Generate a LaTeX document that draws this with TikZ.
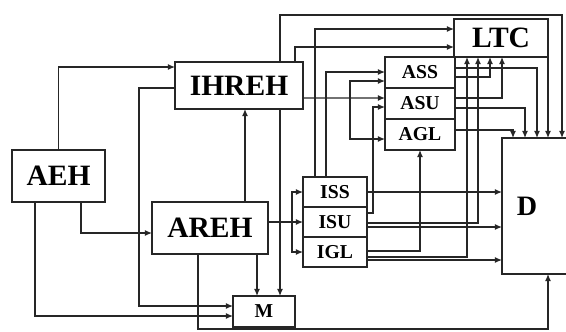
\documentclass[tikz,border=0pt]{standalone}
\usepackage{fontspec}
\setmainfont{Liberation Serif}
\usetikzlibrary{arrows.meta, positioning, calc}
\newcommand{\pxu}{0.025cm}

\begin{document}
\begin{tikzpicture}[x=0.025cm, y=-0.025cm, line width=0.8pt, draw=black!85,
    blk/.style={draw, inner sep=0pt, outer sep=0pt, font=\bfseries\fontsize{21}{21}\selectfont},
    sml/.style={blk, font=\bfseries\fontsize{14}{14}\selectfont},
    arr/.style={-{Latex[length=5pt, width=4.2pt]}}]
    \useasboundingbox (0,0) rectangle (566,331);

    \node[blk, minimum width=93*\pxu, minimum height=52*\pxu] (AEH) at (58.5,176) {AEH};
    \node[blk, minimum width=128*\pxu, minimum height=47*\pxu] (IHREH) at (239,85.5) {IHREH};
    \node[blk, minimum width=116*\pxu, minimum height=52*\pxu] (AREH) at (210,228) {AREH};
    \node[sml, minimum width=62*\pxu, minimum height=31*\pxu] (M) at (264,311.5) {M};
    \node[sml, minimum width=64*\pxu, minimum height=30*\pxu] (ISS) at (335,192) {ISS};
    \node[sml, minimum width=64*\pxu, minimum height=30*\pxu, below=0pt of ISS] (ISU) {ISU};
    \node[sml, minimum width=64*\pxu, minimum height=30*\pxu, below=0pt of ISU] (IGL) {IGL};
    \node[sml, minimum width=70*\pxu, minimum height=31*\pxu] (ASS) at (420,72.5) {ASS};
    \node[sml, minimum width=70*\pxu, minimum height=31*\pxu, below=0pt of ASS] (ASU) {ASU};
    \node[sml, minimum width=70*\pxu, minimum height=31*\pxu, below=0pt of ASU] (AGL) {AGL};
    \node[blk, minimum width=94*\pxu, minimum height=38*\pxu] (LTC) at (501,38) {LTC};
    \node[blk, draw=none, font=\bfseries\fontsize{20}{20}\selectfont,
        minimum width=50*\pxu, minimum height=136*\pxu] (D) at (527,206) {D};
    \draw ($(D.north east)+(20,0)$) -- (D.north west) -- (D.south west) -- ($(D.south east)+(20,0)$);

    \draw[arr] (AEH.north) |- ($(IHREH.north west)+(0,5)$);
    \draw[arr] ($(AEH.south west)+(69,0)$) |- ($(AREH.north west)+(0,31)$);
    \draw[arr] ($(AEH.south west)+(23,0)$) |- ($(M.north west)+(0,20)$);
    \draw[arr] ($(IHREH.north west)+(0,26)$) -- ++(-36,0) |- ($(M.north west)+(0,10)$);
    \draw[arr] ($(AREH.north west)+(93,0)$) -- ($(IHREH.south west)+(70,0)$);
    \draw[arr] ($(AREH.south west)+(105,0)$) -- ($(M.north west)+(24,0)$);
    \draw[arr] ($(IHREH.south west)+(105,0)$) -- ($(M.north west)+(47,0)$);
    \draw[arr] ($(IHREH.north west)+(105,0)$) -- ++(0,-47) -| ($(D.north west)+(60,0)$);
    \draw[arr] ($(IHREH.north west)+(120,0)$) |- ($(LTC.north west)+(0,28)$);
    \draw[arr] ($(AREH.south west)+(46,0)$) -- ++(0,75) -| ($(D.south west)+(46,0)$);

    \coordinate (sp1) at ($(AREH.north east)+(24,20)$);
    \draw ($(AREH.north east)+(0,20)$) -- (sp1);
    \draw[arr] (sp1) |- (ISS.west);
    \draw[arr] (sp1) -- (ISU.west);
    \draw[arr] (sp1) |- (IGL.west);

    \coordinate (sp2) at ($(ASU.north west)+(-35,10)$);
    \draw[arr] ($(IHREH.north east)+(0,36)$) -- ($(ASU.north west)+(0,10)$);
    \draw[arr] (sp2) |- ($(ASS.north west)+(0,24)$);
    \draw[arr] (sp2) |- ($(AGL.north west)+(0,20)$);

    \draw[arr] ($(ISS.north west)+(12,0)$) |- ($(LTC.north west)+(0,10)$);
    \draw[arr] ($(ISS.north west)+(23,0)$) |- ($(ASS.north west)+(0,15)$);
    \draw[arr] ($(ISS.north east)+(0,15)$) -- ($(D.north west)+(0,54)$);
    \draw[arr] ($(ISU.north east)+(0,6)$) -- ++(6,0) |- ($(ASU.north west)+(0,19)$);
    \draw[arr] ($(ISU.north east)+(0,16)$) -| ($(LTC.south west)+(24,0)$);
    \draw[arr] ($(ISU.north east)+(0,20)$) -- ($(D.north west)+(0,89)$);
    \draw[arr] ($(IGL.north east)+(0,14)$) -| (AGL.south);
    \draw[arr] ($(IGL.north east)+(0,20)$) -| ($(LTC.south west)+(13,0)$);
    \draw[arr] ($(IGL.north east)+(0,23)$) -- ($(D.north west)+(0,122)$);

    \draw[arr] ($(ASS.north east)+(0,11)$) -| ($(D.north west)+(35,0)$);
    \draw[arr] ($(ASS.north east)+(0,20)$) -| ($(LTC.south west)+(36,0)$);
    \draw[arr] ($(ASU.north east)+(0,10)$) -| ($(LTC.south west)+(48,0)$);
    \draw[arr] ($(ASU.north east)+(0,20)$) -| ($(D.north west)+(23,0)$);
    \draw[arr] ($(AGL.north east)+(0,11)$) -| ($(D.north west)+(11,0)$);
    \draw[arr] (LTC.south east) -- ($(D.north west)+(46,0)$);
\end{tikzpicture}
\end{document}
